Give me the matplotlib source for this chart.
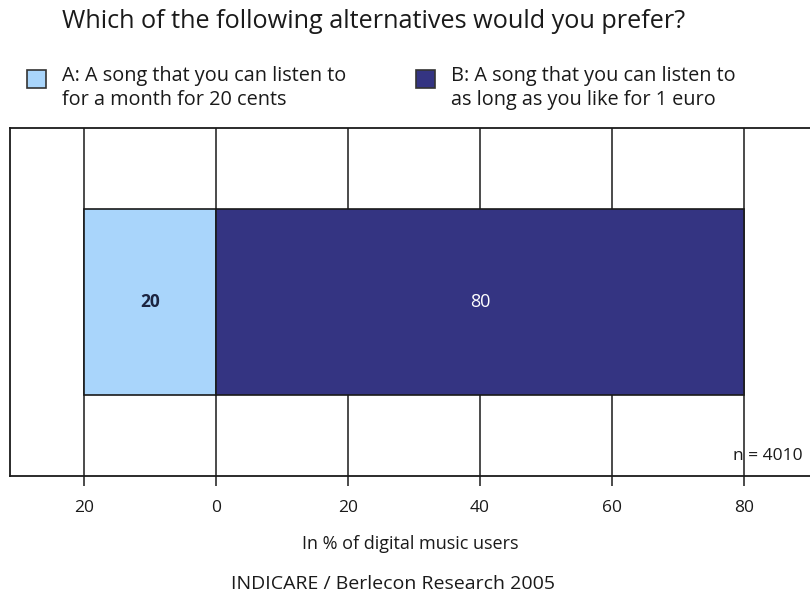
import matplotlib.pyplot as plt
import numpy as np

plt.rcParams['font.family'] = ['Open Sans', 'DejaVu Sans']

# survey shares in percent
share_a = 20
share_b = 80
label_a = "A: A song that you can listen to\nfor a month for 20 cents"
label_b = "B: A song that you can listen to\nas long as you like for 1 euro"
ticks = [-20, 0, 20, 40, 60, 80]
tick_labels = ["20", "0", "20", "40", "60", "80"]

col_a = "#a9d5fb"
col_b = "#343482"
dark = "#1a1a1a"

fig = plt.figure(figsize=(8.1, 6.02), dpi=100)
ax = fig.add_axes([10 / 810, 1 - 476 / 602, 800 / 810, 348 / 602])

ax.barh(0, -share_a, left=0, height=0.535, color=col_a, edgecolor=dark, linewidth=1.2, zorder=3)
ax.barh(0, share_b, left=0, height=0.535, color=col_b, edgecolor=dark, linewidth=1.2, zorder=3)
ax.text(-share_a / 2, 0, str(share_a), ha='center', va='center', fontsize=12.5,
        fontweight='bold', color='#1c2440', zorder=4)
ax.text(share_b / 2, 0, str(share_b), ha='center', va='center', fontsize=13,
        color='white', zorder=4)

ax.set_xlim(-31.2, 90)
ax.set_ylim(-0.5, 0.5)
ax.set_xticks(ticks)
ax.set_xticklabels(tick_labels, fontsize=12.5, color=dark)
ax.set_yticks([])
ax.grid(axis='x', color=dark, linewidth=1.1, zorder=1)
ax.tick_params(axis='x', direction='out', length=7, width=1.1, color=dark, pad=10)
for side in ['left', 'top', 'bottom']:
    ax.spines[side].set_linewidth(1.3)
    ax.spines[side].set_color(dark)
ax.spines['right'].set_visible(False)

ax.text(78.3, -0.465, "n = 4010", ha='left', va='bottom', fontsize=12.5, color=dark, zorder=4)
ax.set_xlabel("In % of digital music users", fontsize=13, color=dark, labelpad=14)

fig.text(62 / 810, 1 - 22 / 602, "Which of the following alternatives would you prefer?",
         fontsize=18.2, color=dark, ha='left', va='center')

# legend drawn by hand as two colored squares with wrapped labels
for x0, col, txt in [(27, col_a, label_a), (416, col_b, label_b)]:
    fig.patches.append(plt.Rectangle((x0 / 810, 1 - 88 / 602), 19 / 810, 18 / 602,
                                     transform=fig.transFigure, facecolor=col,
                                     edgecolor='#333333', linewidth=1.2))
    fig.text((x0 + 35) / 810, 1 - 88 / 602, txt, fontsize=14.3, color=dark,
             ha='left', va='center', linespacing=1.3)

fig.text(393 / 810, 1 - 584 / 602, "INDICARE / Berlecon Research 2005",
         fontsize=14, color=dark, ha='center', va='center')

fig.savefig("out.png", dpi=100)
